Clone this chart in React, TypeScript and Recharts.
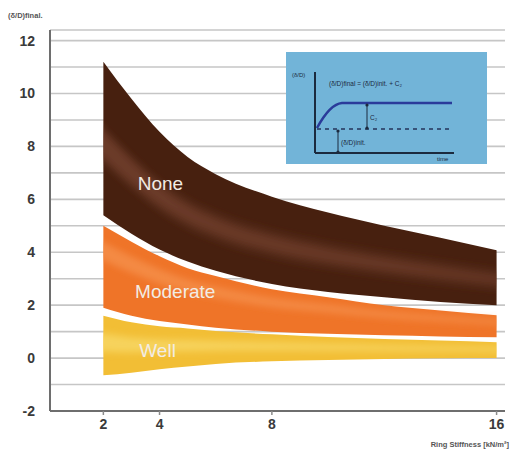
import React from 'react';
import { ComposedChart, Area, XAxis, YAxis, CartesianGrid, ReferenceDot } from 'recharts';

const stiffness = [2, 3, 4, 5, 6, 8, 10, 12, 14, 16];
const noneUpper = [11.2, 9.8, 8.55, 7.6, 6.95, 6.1, 5.5, 5.0, 4.55, 4.08];
const noneLower = [5.4, 4.7, 4.1, 3.65, 3.3, 2.8, 2.5, 2.3, 2.12, 2.0];
const moderateUpper = [5.0, 4.4, 3.85, 3.4, 3.1, 2.6, 2.3, 2.0, 1.8, 1.62];
const moderateLower = [1.9, 1.6, 1.4, 1.27, 1.15, 1.0, 0.92, 0.86, 0.82, 0.79];
const wellUpper = [1.6, 1.35, 1.2, 1.12, 1.02, 0.9, 0.8, 0.72, 0.66, 0.6];
const wellLower = [-0.65, -0.55, -0.42, -0.32, -0.22, -0.12, -0.07, -0.03, -0.01, 0];

const xTicks = [2, 4, 8, 16];
const yGridTicks = [-2, -1, 0, 1, 2, 3, 4, 5, 6, 7, 8, 9, 10, 11, 12];
const bandLabels = [
  { name: 'None', x: 4.03, y: 6.6 },
  { name: 'Moderate', x: 4.56, y: 2.53 },
  { name: 'Well', x: 3.93, y: 0.3 },
];

const data = stiffness.map((s, i) => ({
  s,
  none: [noneLower[i], noneUpper[i]],
  noneGlow: [
    noneLower[i] + 0.36 * (noneUpper[i] - noneLower[i]),
    noneLower[i] + 0.56 * (noneUpper[i] - noneLower[i]),
  ],
  moderate: [moderateLower[i], moderateUpper[i]],
  moderateGlow: [
    moderateLower[i] + 0.58 * (moderateUpper[i] - moderateLower[i]),
    moderateLower[i] + 0.8 * (moderateUpper[i] - moderateLower[i]),
  ],
  well: [wellLower[i], wellUpper[i]],
  wellGlow: [
    wellLower[i] + 0.4 * (wellUpper[i] - wellLower[i]),
    wellLower[i] + 0.7 * (wellUpper[i] - wellLower[i]),
  ],
}));

const FONT = '"Liberation Sans", Arial, sans-serif';

export default function App() {
  return (
    <div style={{ position: 'absolute', left: 0, top: 0, width: 515, height: 452, background: '#fff', fontFamily: FONT }}>
      <ComposedChart width={515} height={452} data={data} margin={{ top: 30, right: 10, bottom: 0, left: 0 }}>
        <defs>
          <filter id="glowBlur" x="0%" y="-60%" width="100%" height="220%">
            <feGaussianBlur stdDeviation="0 6" />
          </filter>
          <filter id="glowBlurSmall" x="0%" y="-60%" width="100%" height="220%">
            <feGaussianBlur stdDeviation="0 3.5" />
          </filter>
        </defs>
        <CartesianGrid horizontal vertical={false} stroke="#c6c6c6" strokeWidth={1.6} />
        <XAxis
          dataKey="s"
          type="number"
          domain={[0.1, 16.3]}
          ticks={xTicks}
          height={41}
          axisLine={{ stroke: '#6e6e6e', strokeWidth: 2 }}
          tickLine={{ stroke: '#8a8a8a', strokeWidth: 1.5 }}
          tickSize={4}
          tickMargin={4}
          tick={{ fill: '#3a3a3a', fontSize: 14, fontWeight: 'bold', fontFamily: FONT }}
          allowDataOverflow
        />
        <YAxis
          type="number"
          domain={[-2, 12.4]}
          ticks={yGridTicks}
          width={50}
          interval={0}
          axisLine={{ stroke: '#6e6e6e', strokeWidth: 2 }}
          tickLine={false}
          tickSize={0}
          tickMargin={15}
          tickFormatter={(v: number) => (v % 2 === 0 ? String(v) : '')}
          tick={{ fill: '#3a3a3a', fontSize: 14, fontWeight: 'bold', fontFamily: FONT }}
          allowDataOverflow
        />
        <Area type="monotone" dataKey="well" stroke="none" fill="#f2be35" fillOpacity={1} isAnimationActive={false} />
        <Area type="monotone" dataKey="wellGlow" stroke="none" fill="#f8d865" fillOpacity={0.8} filter="url(#glowBlurSmall)" isAnimationActive={false} />
        <Area type="monotone" dataKey="moderate" stroke="none" fill="#ef7428" fillOpacity={1} isAnimationActive={false} />
        <Area type="monotone" dataKey="moderateGlow" stroke="none" fill="#f5924c" fillOpacity={0.75} filter="url(#glowBlurSmall)" isAnimationActive={false} />
        <Area type="monotone" dataKey="none" stroke="none" fill="#47200f" fillOpacity={1} isAnimationActive={false} />
        <Area type="monotone" dataKey="noneGlow" stroke="none" fill="#7a4632" fillOpacity={0.7} filter="url(#glowBlur)" isAnimationActive={false} />
        {bandLabels.map((b) => (
          <ReferenceDot
            key={b.name}
            x={b.x}
            y={b.y}
            r={0}
            stroke="none"
            fill="none"
            label={{ value: b.name, position: 'center', fill: '#f2ece4', fontSize: 19, fontFamily: FONT }}
          />
        ))}
      </ComposedChart>
      <svg width={515} height={452} style={{ position: 'absolute', left: 0, top: 0, pointerEvents: 'none' }}>
        <text x={8} y={18} fontSize={7.5} fontWeight="bold" fill="#555" fontFamily={FONT}>(δ/D)final.</text>
        <text x={509} y={447} fontSize={7.5} fontWeight="bold" fill="#555" textAnchor="end" fontFamily={FONT}>Ring Stiffness [kN/m²]</text>
        <g>
          <rect x={286} y={52} width={201} height={112} fill="#72b4d8" />
          <line x1={315} y1={72} x2={315} y2={153} stroke="#1b2a3e" strokeWidth={2} />
          <line x1={315} y1={153} x2={454} y2={153} stroke="#1b2a3e" strokeWidth={2} />
          <line x1={317} y1={129} x2={451} y2={129} stroke="#24335a" strokeWidth={1.5} strokeDasharray="4 4" />
          <path d="M317,128 Q330,104 342,103 L452,103" fill="none" stroke="#2a3b9a" strokeWidth={2.5} />
          <line x1={367} y1={104} x2={367} y2={128} stroke="#1b2a3e" strokeWidth={1} />
          <circle cx={367} cy={105} r={1.6} fill="#1b2a3e" />
          <circle cx={367} cy={128} r={1.6} fill="#1b2a3e" />
          <line x1={338} y1={130} x2={338} y2={152} stroke="#1b2a3e" strokeWidth={1} />
          <circle cx={338} cy={131} r={1.6} fill="#1b2a3e" />
          <circle cx={338} cy={152} r={1.6} fill="#1b2a3e" />
          <text x={370} y={120} fontSize={6.5} fill="#1b2a3e" fontFamily={FONT}>C₂</text>
          <text x={341} y={145} fontSize={6.5} fill="#1b2a3e" fontFamily={FONT}>(δ/D)init.</text>
          <text x={292} y={77} fontSize={6} fill="#1b2a3e" fontFamily={FONT}>(δ/D)</text>
          <text x={329} y={86} fontSize={6.5} fill="#1b2a3e" fontFamily={FONT}>(δ/D)final = (δ/D)init. + C₂</text>
          <text x={437} y={161} fontSize={6} fill="#1b2a3e" fontFamily={FONT}>time</text>
        </g>
      </svg>
    </div>
  );
}
